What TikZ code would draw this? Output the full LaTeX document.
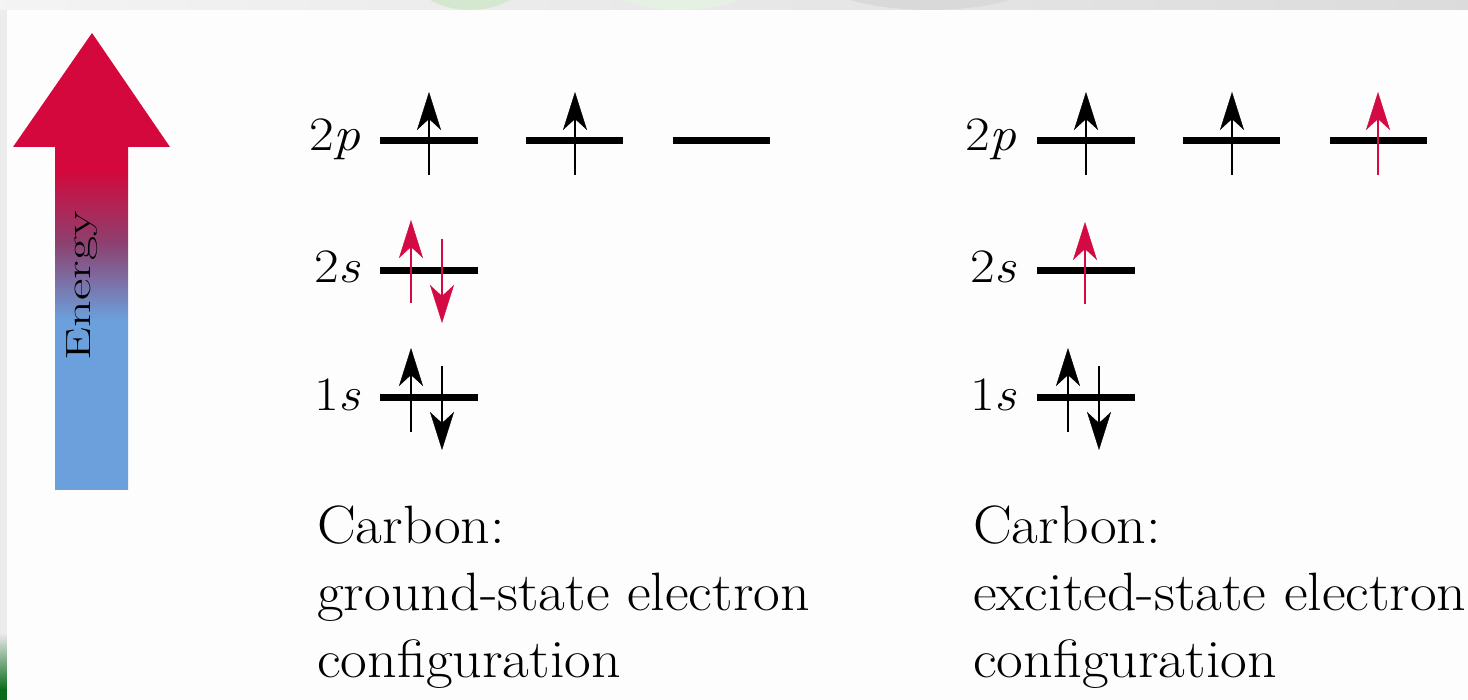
\documentclass[tikz,border=0pt]{standalone}
\usetikzlibrary{arrows.meta}
\definecolor{ered}{RGB}{212,8,60}
\definecolor{eblue}{RGB}{107,160,220}
\definecolor{spinred}{RGB}{212,10,68}
\definecolor{panel}{RGB}{253,253,253}
\definecolor{strip}{RGB}{236,236,236}
\definecolor{darkgreen}{RGB}{10,108,26}
\definecolor{palegreen}{RGB}{212,232,208}
\pgfdeclareverticalshading{energyshade}{100bp}{color(0bp)=(eblue); color(43.6bp)=(eblue); color(52bp)=(eblue!45!ered!85!black); color(60bp)=(ered); color(100bp)=(ered)}
\newcommand{\capwide}[1]{\scalebox{1.075}[1]{#1}}
\newcommand{\lblwide}[1]{\scalebox{1.12}[1]{#1}}
\tikzset{
  lvl/.style={line width=7pt},
  spin/.style={line width=2.6pt, -{Stealth[length=38pt,width=24pt,inset=11pt,line width=0.4pt]}},
  redspin/.style={spin, draw=spinred, fill=spinred},
  lbl/.style={inner sep=0pt, font=\fontsize{48}{58}\selectfont},
  captext/.style={inner sep=0pt, font=\fontsize{54}{66}\selectfont},
}
\begin{document}
\begin{tikzpicture}[x=1pt,y=-1pt]
\useasboundingbox (0,0) rectangle (1468,700);
% screenshot frame
\fill[strip] (0,0) rectangle (1468,700);
\begin{scope}
  \clip (0,0) rectangle (1468,10);
  \shade[left color=strip!60!white, right color=black!14] (0,0) rectangle (1468,10);
  \fill[palegreen] (470,-30) ellipse (60 and 40);
  \fill[palegreen!60!white] (680,-30) ellipse (90 and 40);
  \fill[white!85!black] (930,-30) ellipse (120 and 40);
\end{scope}
\shade[top color=strip, bottom color=darkgreen] (0,633) rectangle (7,690);
\fill[darkgreen] (0,689) rectangle (7,700);
\fill[panel] (7,10) rectangle (1468,700);
% energy arrow
\shade[shading=energyshade] (92,33) -- (170,147) -- (128,147) -- (128,490) -- (55,490) -- (55,147) -- (13,147) -- cycle;
\node[rotate=90, anchor=base, inner sep=0pt, font=\fontsize{35}{40}\selectfont] (energy) at (90,286) {\scalebox{1.5}[1]{Energy}};
% ---------- ground state ----------
\node[lbl, anchor=base east] (g2p) at (361,151) {\lblwide{2\textit{p}}};
\node[lbl, anchor=base east] (g2s) at (361,283) {\lblwide{2\textit{s}}};
\node[lbl, anchor=base east] (g1s) at (361,411) {\lblwide{1\textit{s}}};
\draw[lvl] (380,141) -- (478,141);
\draw[lvl] (526,141) -- (623,141);
\draw[lvl] (673,141) -- (770,141);
\draw[lvl] (380,271) -- (478,271);
\draw[lvl] (380,398) -- (478,398);
\draw[spin] (429,175) -- (429,92);
\draw[spin] (575,175) -- (575,92);
\draw[redspin] (411,303) -- (411,220);
\draw[redspin] (442,239) -- (442,323);
\draw[spin] (411,432) -- (411,348);
\draw[spin] (442,366) -- (442,450);
\node[captext, anchor=base west] (gc1) at (317,543) {\capwide{Carbon:}};
\node[captext, anchor=base west] (gc2) at (317,610) {\capwide{ground-state electron}};
\node[captext, anchor=base west] (gc3) at (317,677) {\capwide{configuration}};
% ---------- excited state ----------
\node[lbl, anchor=base east] (e2p) at (1017,151) {\lblwide{2\textit{p}}};
\node[lbl, anchor=base east] (e2s) at (1017,283) {\lblwide{2\textit{s}}};
\node[lbl, anchor=base east] (e1s) at (1017,411) {\lblwide{1\textit{s}}};
\draw[lvl] (1037,141) -- (1135,141);
\draw[lvl] (1183,141) -- (1280,141);
\draw[lvl] (1330,141) -- (1427,141);
\draw[lvl] (1037,271) -- (1135,271);
\draw[lvl] (1037,398) -- (1135,398);
\draw[spin] (1086,175) -- (1086,92);
\draw[spin] (1232,175) -- (1232,92);
\draw[redspin] (1378,175) -- (1378,92);
\draw[redspin] (1085,304) -- (1085,222);
\draw[spin] (1068,432) -- (1068,348);
\draw[spin] (1099,366) -- (1099,450);
\node[captext, anchor=base west] (ec1) at (973,543) {\capwide{Carbon:}};
\node[captext, anchor=base west] (ec2) at (973,610) {\capwide{excited-state electron}};
\node[captext, anchor=base west] (ec3) at (973,677) {\capwide{configuration}};
\end{tikzpicture}
\end{document}
